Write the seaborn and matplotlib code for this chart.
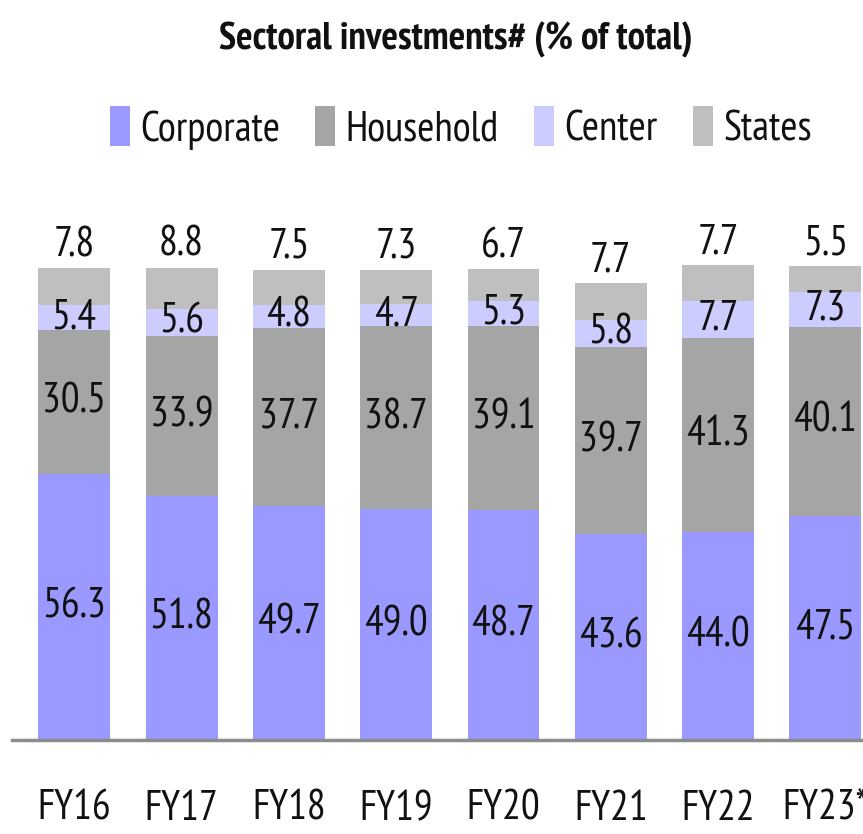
import matplotlib
matplotlib.use("Agg")
import matplotlib.pyplot as plt
from matplotlib.patches import Patch
import seaborn as sns
import numpy as np
import pandas as pd

years = ["FY16", "FY17", "FY18", "FY19", "FY20", "FY21", "FY22", "FY23*"]
corporate = [56.3, 51.8, 49.7, 49.0, 48.7, 43.6, 44.0, 47.5]
household = [30.5, 33.9, 37.7, 38.7, 39.1, 39.7, 41.3, 40.1]
center = [5.4, 5.6, 4.8, 4.7, 5.3, 5.8, 7.7, 7.3]
states = [7.8, 8.8, 7.5, 7.3, 6.7, 7.7, 7.7, 5.5]

series_names = ["Corporate", "Household", "Center", "States"]
colors = ["#9999FF", "#A5A5A5", "#CCCCFF", "#BFBFBF"]

sns.set_theme(style="white")
FONT = ["PT Sans Narrow", "DejaVu Sans"]
plt.rcParams["font.family"] = FONT

W, H = 863, 834
fig = plt.figure(figsize=(W / 100, H / 100), dpi=100)
ax = fig.add_axes([12 / W, 94 / H, 1 - 12 / W, 519 / H])

vals = np.array([corporate, household, center, states])
cum = np.cumsum(vals, axis=0)

df = pd.DataFrame({"year": years})
# Draw cumulative totals from top-most series down so lower series overlay
for i in range(3, -1, -1):
    df["h"] = cum[i]
    sns.barplot(data=df, x="year", y="h", color=colors[i], width=0.67,
                saturation=1, ax=ax, linewidth=0, order=years)

ax.set_xlim(-0.58, 7.35)
ax.set_ylim(0, 110)

# Segment labels
for j in range(len(years)):
    bottoms = np.concatenate([[0], cum[:, j]])
    for i in range(3):
        mid = (bottoms[i] + bottoms[i + 1]) / 2
        ax.text(j, mid, f"{vals[i, j]:.1f}", ha="center", va="center",
                fontsize=30, color="#111111", family=FONT)
    ax.text(j, cum[3, j] + 0.6, f"{vals[3, j]:.1f}", ha="center", va="bottom",
            fontsize=30, color="#111111", family=FONT)

for s in ["top", "right", "left"]:
    ax.spines[s].set_visible(False)
ax.spines["bottom"].set_color("#8C8C8C")
ax.spines["bottom"].set_linewidth(2.5)
ax.set_xlabel("")
ax.set_ylabel("")
ax.set_yticks([])
ax.tick_params(axis="x", length=0, pad=36, labelsize=30, labelcolor="#111111")
for lbl in ax.get_xticklabels():
    lbl.set_family(FONT)

fig.text(456 / W, 1 - 40 / H, "Sectoral investments# (% of total)",
         ha="center", va="center", fontsize=28, fontweight="bold",
         color="#111111", family=FONT)

handles = [Patch(facecolor=c, edgecolor="none", label=n)
           for c, n in zip(colors, series_names)]
leg = fig.legend(handles=handles, loc="center", bbox_to_anchor=(461 / W, 1 - 128 / H),
                 ncol=4, frameon=False, handlelength=0.48,
                 handleheight=1.1, handletextpad=0.25, columnspacing=0.85,
                 prop={"family": FONT, "size": 30})
for t in leg.get_texts():
    t.set_color("#111111")

fig.savefig("out.png", dpi=100)
